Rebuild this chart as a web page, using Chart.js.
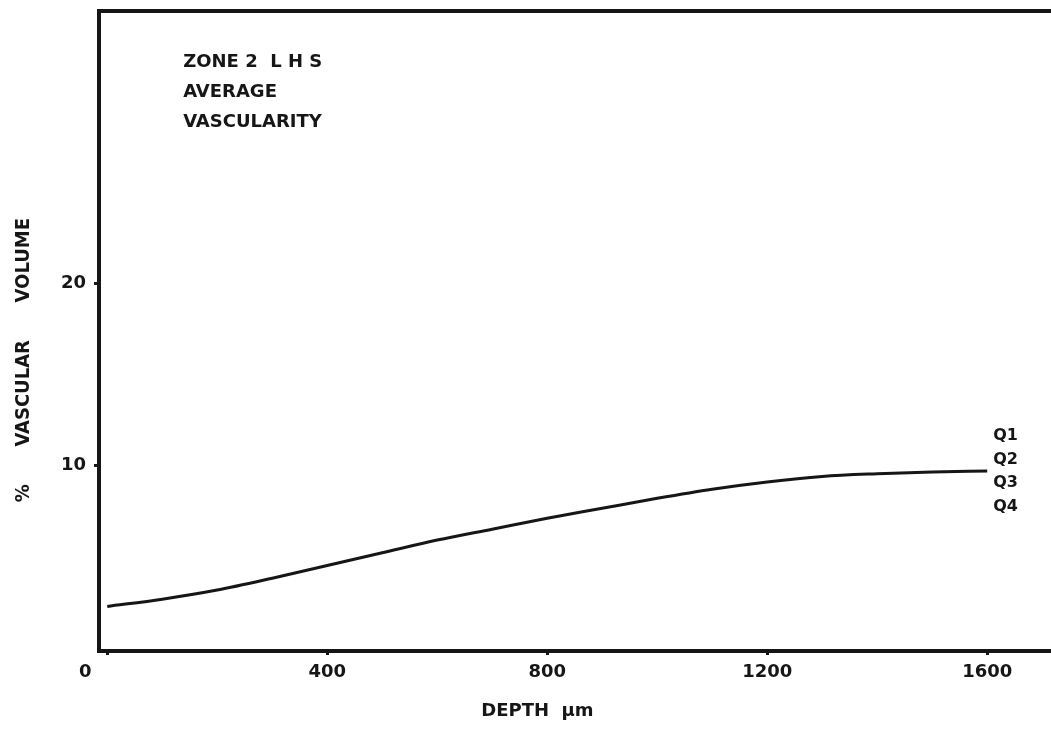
<!DOCTYPE html>
<html>
<head>
<meta charset="utf-8">
<script src="https://cdn.jsdelivr.net/npm/chart.js@4.4.1/dist/chart.umd.min.js"></script>
<style>
  html, body { margin: 0; padding: 0; background: #ffffff; }
  #wrap { width: 1051px; height: 729px; }
</style>
</head>
<body>
<div id="wrap"><canvas id="c" width="1051" height="729"></canvas></div>
<script>
// ---- data ----
const depth = [0, 100, 200, 300, 400, 500, 600, 700, 800, 900, 1000, 1100, 1200, 1300, 1400, 1500, 1600];
const volume = [2.25, 2.65, 3.15, 3.8, 4.5, 5.2, 5.9, 6.5, 7.1, 7.65, 8.2, 8.7, 9.1, 9.4, 9.55, 9.65, 9.7];
const xTickValues = [0, 400, 800, 1200, 1600];
const yTickValues = [10, 20];
const seriesLabels = ['Q1', 'Q2', 'Q3', 'Q4'];
const noteLines = ['ZONE 2  L H S', 'AVERAGE', 'VASCULARITY'];
const xTitle = 'DEPTH  \u00b5m';
const yTitle = '%      VASCULAR      VOLUME';

const INK = '#161616';
const FONT = '"DejaVu Sans", "Liberation Sans", Arial, sans-serif';

const annotations = {
  id: 'annotations',
  afterDraw(chart) {
    const ctx = chart.ctx;
    const xs = chart.scales.x, ys = chart.scales.y;
    ctx.save();
    ctx.fillStyle = INK;
    ctx.textBaseline = 'alphabetic';
    ctx.textAlign = 'left';
    // top-left note
    ctx.font = 'bold 18px ' + FONT;
    const nx = xs.getPixelForValue(138);
    noteLines.forEach((t, i) => {
      ctx.fillText(t, nx, 67 + i * 30);
    });
    // series labels at the end of the curve
    ctx.font = 'bold 16px ' + FONT;
    const lx = xs.getPixelForValue(depth[depth.length - 1]) + 6;
    const ly = ys.getPixelForValue(volume[volume.length - 1]);
    seriesLabels.forEach((t, i) => {
      ctx.fillText(t, lx, ly - 31 + i * 23.5);
    });
    // y axis title (rotated)
    ctx.font = 'bold 20px "DejaVu Sans Condensed", "DejaVu Sans", sans-serif';
    ctx.translate(24, ys.getPixelForValue(15.8));
    ctx.rotate(-Math.PI / 2);
    ctx.textAlign = 'center';
    ctx.textBaseline = 'middle';
    ctx.fillText(yTitle, 0, 0);
    ctx.restore();
  }
};

new Chart(document.getElementById('c'), {
  type: 'line',
  data: {
    datasets: [{
      label: seriesLabels.join(' '),
      data: depth.map((d, i) => ({ x: d, y: volume[i] })),
      borderColor: INK,
      borderWidth: 3,
      pointRadius: 0,
      fill: false,
      cubicInterpolationMode: 'monotone'
    }]
  },
  options: {
    responsive: false,
    devicePixelRatio: 1,
    animation: false,
    layout: { padding: { top: 11, right: 0, left: 0, bottom: 0 } },
    plugins: { legend: { display: false }, tooltip: { enabled: false } },
    scales: {
      x: {
        type: 'linear',
        min: -15,
        max: 1716,
        afterBuildTicks: s => { s.ticks = xTickValues.map(v => ({ value: v })); },
        afterFit: s => { s.height = 78; s.paddingLeft = 0; s.paddingRight = 0; },
        border: { display: true, color: INK, width: 4 },
        grid: { drawOnChartArea: false, drawTicks: true, tickLength: 4, tickColor: INK, tickWidth: 3 },
        ticks: {
          color: INK,
          font: { family: FONT, size: 18, weight: 'bold' },
          padding: 7,
          maxRotation: 0,
          autoSkip: false,
          callback: v => (v === 0 ? '0       ' : String(v))
        },
        title: {
          display: true,
          text: xTitle + '            ',
          color: INK,
          font: { family: FONT, size: 18, weight: 'bold' },
          padding: { top: 0, bottom: 7 }
        }
      },
      x2: {
        type: 'linear',
        position: 'top',
        min: -15,
        max: 1716,
        afterFit: s => { s.height = 0; s.paddingLeft = 0; s.paddingRight = 0; },
        border: { display: true, color: INK, width: 4 },
        grid: { drawOnChartArea: false, drawTicks: false },
        ticks: { display: false }
      },
      y: {
        type: 'linear',
        min: -0.2,
        max: 35,
        afterBuildTicks: s => { s.ticks = yTickValues.map(v => ({ value: v })); },
        afterFit: s => { s.width = 99; s.paddingTop = 0; s.paddingBottom = 0; },
        border: { display: true, color: INK, width: 4 },
        grid: { drawOnChartArea: false, drawTicks: true, tickLength: 5, tickColor: INK, tickWidth: 3 },
        ticks: {
          color: INK,
          font: { family: FONT, size: 18, weight: 'bold' },
          padding: 8,
          callback: v => String(v)
        },
        title: { display: false }
      }
    }
  },
  plugins: [annotations]
});
</script>
</body>
</html>
